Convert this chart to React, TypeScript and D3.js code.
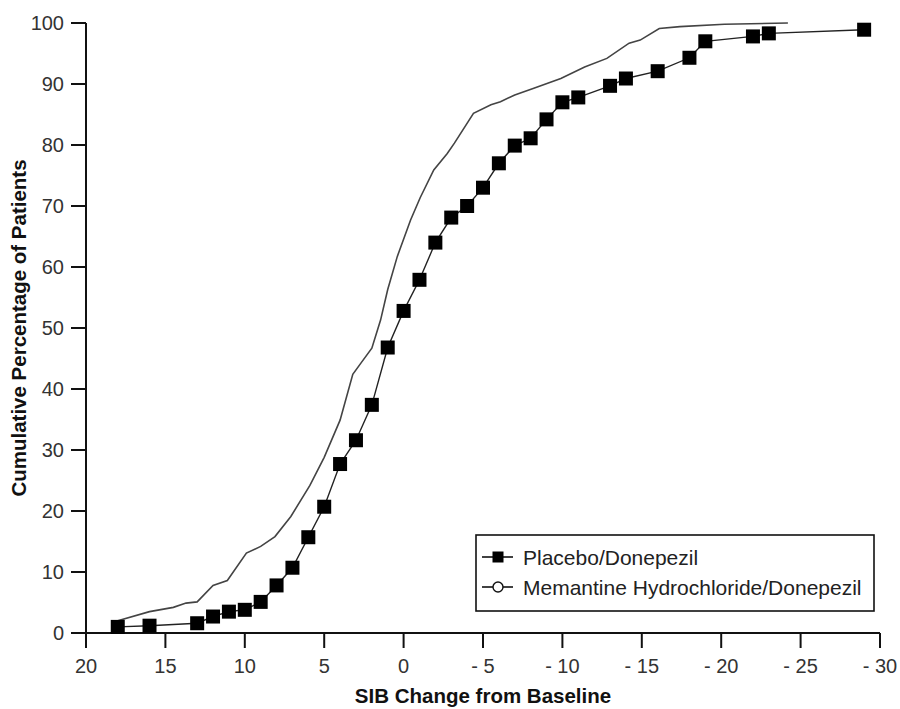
import React from "react";
import * as d3 from "d3";

const placeboX = [18, 16, 13, 12, 11, 10, 9, 8, 7, 6, 5, 4, 3, 2, 1, 0, -1, -2, -3, -4, -5, -6, -7, -8, -9, -10, -11, -13, -14, -16, -18, -19, -22, -23, -29];
const placeboY = [1.0, 1.2, 1.6, 2.7, 3.5, 3.8, 5.1, 7.8, 10.7, 15.7, 20.7, 27.7, 31.6, 37.4, 46.8, 52.8, 57.9, 64.0, 68.1, 70.0, 73.0, 77.0, 79.9, 81.1, 84.2, 87.0, 87.8, 89.7, 90.9, 92.1, 94.3, 97.0, 97.8, 98.3, 98.9];

const memantineX = [18, 16, 14.5, 13.7, 13, 12, 11.1, 9.9, 9, 8.1, 7.1, 5.9, 5, 4, 3.2, 2.7, 2, 1.45, 1.0, 0.4, -0.44, -1.05, -1.9, -2.75, -3.2, -4.4, -5.5, -6.1, -7, -8.2, -9.9, -11.4, -12.8, -14.2, -14.9, -16.1, -17.4, -20.2, -24.2];
const memantineY = [2.0, 3.5, 4.2, 4.9, 5.1, 7.8, 8.6, 13.1, 14.2, 15.8, 19.1, 24.2, 28.8, 34.9, 42.4, 44.2, 46.7, 51.3, 56.3, 61.7, 67.7, 71.4, 75.9, 78.6, 80.3, 85.2, 86.6, 87.1, 88.2, 89.3, 90.9, 92.8, 94.2, 96.7, 97.2, 99.1, 99.4, 99.8, 100.0];

const xTicks = [20, 15, 10, 5, 0, -5, -10, -15, -20, -25, -30];
const yTicks = [0, 10, 20, 30, 40, 50, 60, 70, 80, 90, 100];

const seriesNames = ["Placebo/Donepezil", "Memantine Hydrochloride/Donepezil"];
const xTitle = "SIB Change from Baseline";
const yTitle = "Cumulative Percentage of Patients";

const FONT = "'Liberation Sans Narrow', 'Arial Narrow', 'Liberation Sans', Arial, sans-serif";

export default function App() {
  const W = 900, H = 709;
  const x = d3.scaleLinear().domain([20, -30]).range([86, 880]);
  const y = d3.scaleLinear().domain([0, 100]).range([633, 23]);

  const placebo = placeboX.map((v, i) => [v, placeboY[i]] as [number, number]);
  const memantine = memantineX.map((v, i) => [v, memantineY[i]] as [number, number]);
  const line = d3.line<[number, number]>().x(d => x(d[0])).y(d => y(d[1]));

  const fmtX = (v: number) => (v < 0 ? "- " + Math.abs(v) : String(v));
  const sq = 14;

  return (
    <svg width={W} height={H} style={{ position: "absolute", left: 0, top: 0, background: "#fff" }} fontFamily={FONT}>
      <rect x={0} y={0} width={W} height={H} fill="#fff" />
      {/* axes */}
      <line x1={x(20)} x2={x(-30)} y1={y(0)} y2={y(0)} stroke="#111" strokeWidth={2} />
      <line x1={x(20)} x2={x(20)} y1={y(0)} y2={y(100)} stroke="#111" strokeWidth={2} />
      {yTicks.map(t => (
        <g key={"y" + t}>
          <line x1={x(20) - 15} x2={x(20)} y1={y(t)} y2={y(t)} stroke="#111" strokeWidth={2} />
          <text x={x(20) - 22} y={y(t)} dy="0.36em" textAnchor="end" fontSize={20} fill="#333">{t}</text>
        </g>
      ))}
      {xTicks.map(t => (
        <g key={"x" + t}>
          <line x1={x(t)} x2={x(t)} y1={y(0)} y2={y(0) + 15} stroke="#111" strokeWidth={2} />
          <text x={x(t)} y={y(0) + 40} textAnchor="middle" fontSize={20} fill="#333">{fmtX(t)}</text>
        </g>
      ))}
      <text x={(x(20) + x(-30)) / 2} y={703} textAnchor="middle" fontSize={20.5} fontWeight="bold" fill="#111">{xTitle}</text>
      <text transform={`translate(26, ${(y(0) + y(100)) / 2}) rotate(-90)`} textAnchor="middle" fontSize={20.5} fontWeight="bold" fill="#111">{yTitle}</text>

      {/* series */}
      <path d={line(memantine) || ""} fill="none" stroke="#444" strokeWidth={1.6} />
      <path d={line(placebo) || ""} fill="none" stroke="#222" strokeWidth={1.4} />
      {placebo.map((d, i) => (
        <rect key={"p" + i} x={x(d[0]) - sq / 2} y={y(d[1]) - sq / 2} width={sq} height={sq} fill="#000" />
      ))}

      {/* legend */}
      <rect x={476} y={535} width={398} height={76} fill="#fff" stroke="#111" strokeWidth={1.6} />
      <line x1={482} x2={513} y1={557} y2={557} stroke="#111" strokeWidth={1.6} />
      <rect x={498 - 5.5} y={557 - 5.5} width={11} height={11} fill="#000" />
      <text x={523} y={557} dy="0.36em" fontSize={21} fill="#222">{seriesNames[0]}</text>
      <line x1={482} x2={513} y1={587} y2={587} stroke="#111" strokeWidth={1.6} />
      <circle cx={498} cy={587} r={5} fill="#fff" stroke="#111" strokeWidth={1.4} />
      <text x={523} y={587} dy="0.36em" fontSize={21} fill="#222">{seriesNames[1]}</text>
    </svg>
  );
}
